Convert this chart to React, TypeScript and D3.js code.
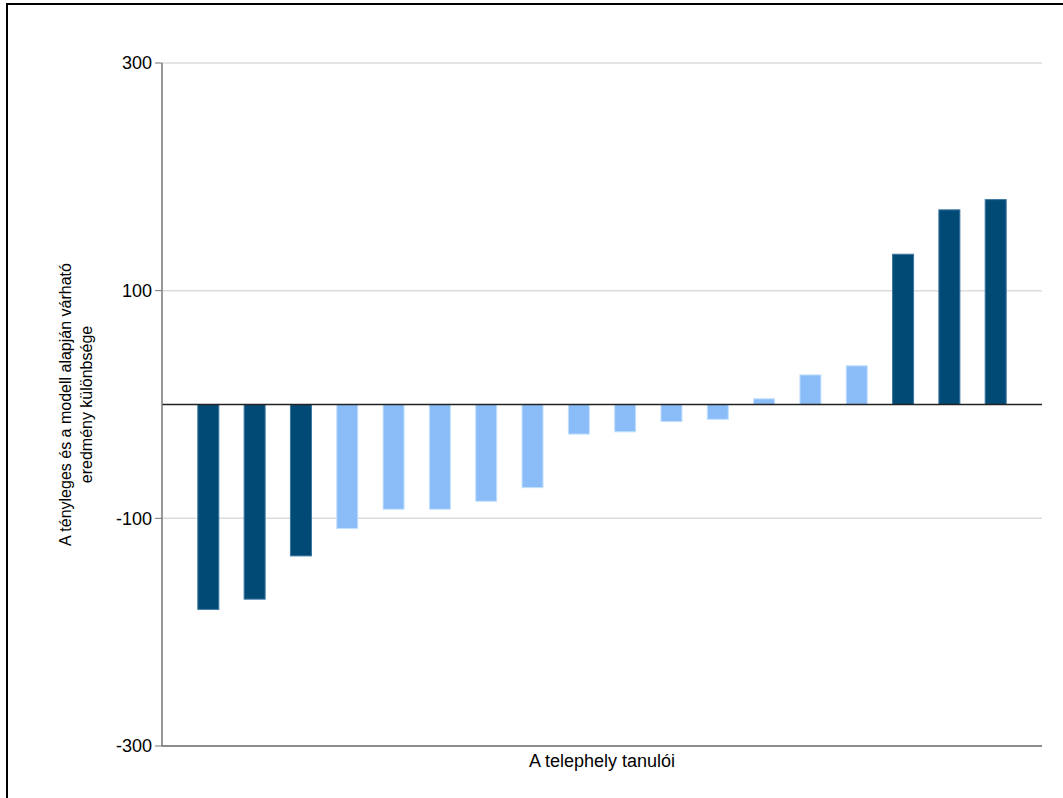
import React from "react";
import * as d3 from "d3";

const students = ["1","2","3","4","5","6","7","8","9","10","11","12","13","14","15","16","17","18"];
const differences = [-180, -171, -133, -109, -92, -92, -85, -73, -26, -24, -15, -13, 5, 26, 34, 132, 171, 180];
const significant = [true, true, true, false, false, false, false, false, false, false, false, false, false, false, false, true, true, true];
const yTicks = [300, 100, -100, -300];
const yTitleLines = ["A tényleges és a modell alapján várható", "eredmény különbsége"];
const xTitle = "A telephely tanulói";

const W = 1063, H = 798;
const left = 162, right = 1042, top = 63, bottom = 746;

export default function App() {
  const x = d3.scalePoint<string>().domain(students).range([left, right]).padding(1);
  const y = d3.scaleLinear().domain([-300, 300]).range([bottom, top]);
  const barW = 21;
  const font = "Arial, 'Liberation Sans', sans-serif";
  return (
    <svg width={W} height={H} style={{ position: "absolute", left: 0, top: 0, display: "block", background: "#fff" }}>
      <rect x={7} y={4} width={1200} height={1000} fill="none" stroke="#000" strokeWidth={2} />
      {yTicks.filter(t => t !== -300).map(t => (
        <line key={"g" + t} x1={left} x2={right} y1={y(t)} y2={y(t)} stroke="#dcdcdc" strokeWidth={1.5} />
      ))}
      {differences.map((v, i) => {
        const y0 = y(0), y1 = y(v);
        const dark = significant[i];
        return (
          <rect key={i} x={(x(students[i]) as number) - barW / 2} y={Math.min(y0, y1)} width={barW} height={Math.abs(y1 - y0)}
            fill={dark ? "#024a76" : "#8abdf8"} stroke={dark ? "#3a76a0" : "#c4e0fd"} strokeWidth={1} />
        );
      })}
      <line x1={left} x2={right} y1={y(0)} y2={y(0)} stroke="#222" strokeWidth={1.3} />
      <line x1={left} x2={left} y1={top} y2={bottom} stroke="#777" strokeWidth={1.5} />
      <line x1={left} x2={right} y1={bottom} y2={bottom} stroke="#666" strokeWidth={1.5} />
      {yTicks.map(t => (
        <g key={"t" + t}>
          <line x1={left - 7} x2={left} y1={y(t)} y2={y(t)} stroke="#777" strokeWidth={1} />
          <text x={left - 10} y={y(t)} dy="0.35em" textAnchor="end" fontFamily={font} fontSize={18} fill="#000">{t}</text>
        </g>
      ))}
      <text x={(left + right) / 2} y={767} textAnchor="middle" fontFamily={font} fontSize={18} fill="#000">{xTitle}</text>
      <g transform={`translate(65, ${y(0)}) rotate(-90)`}>
        {yTitleLines.map((l, i) => (
          <text key={i} x={0} y={i * 21} dy="0.35em" textAnchor="middle" fontFamily={font} fontSize={16} fill="#000">{l}</text>
        ))}
      </g>
    </svg>
  );
}
